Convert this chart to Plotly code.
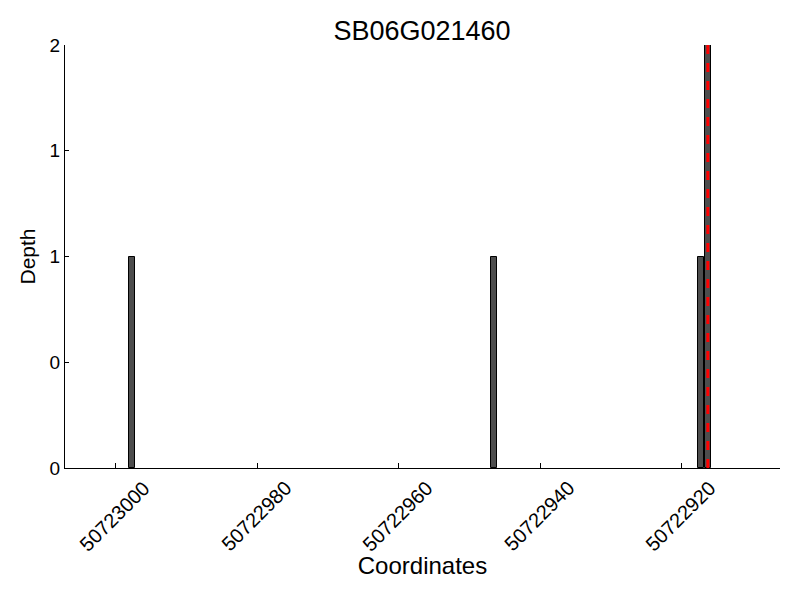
import plotly.graph_objects as go

title = "SB06G021460"
positions = [50722997.7, 50722946.5, 50722917.3, 50722916.3]
depths = [1, 1, 1, 2]
marker_pos = [50722916.3, 50722916.3]
marker_y = [0, 2]
x_ticks = [50723000, 50722980, 50722960, 50722940, 50722920]
y_ticks = [0, 0.5, 1, 1.5, 2]
y_labels = ["0", "0", "1", "1", "2"]

fig = go.Figure()
fig.add_trace(go.Bar(
    x=positions, y=depths, width=0.9,
    marker=dict(color="#4d4d4d", line=dict(color="black", width=1)),
    showlegend=False,
))
fig.add_trace(go.Scatter(
    x=marker_pos, y=marker_y, mode="lines",
    line=dict(color="red", width=3, dash="dash"),
    showlegend=False,
))

font = "Liberation Sans, Arial, sans-serif"
fig.update_layout(
    width=800, height=600,
    margin=dict(l=57, r=28, t=37, b=140, autoexpand=False),
    plot_bgcolor="white", paper_bgcolor="white",
    title=dict(text=title, x=0.5175, xanchor="center", y=0.963, yanchor="middle",
               font=dict(family=font, size=27, color="black")),
    bargap=0,
    font=dict(family=font, color="black"),
)
# centred, rotated tick labels (as in the reference)
for v in x_ticks:
    fig.add_annotation(
        x=v, xref="x", y=0, yref="paper", text=str(v), showarrow=False,
        textangle=-45, xanchor="center", yanchor="top", yshift=-6, xshift=-1,
        font=dict(family=font, size=20, color="black"),
    )
fig.update_xaxes(
    range=[50723007.2, 50722906.1], automargin=False,
    tickvals=x_ticks, ticktext=[str(v) for v in x_ticks],
    tickangle=-45, tickfont=dict(size=19, color="rgba(0,0,0,0)"),
    ticks="inside", ticklen=5, tickcolor="black",
    showline=True, linecolor="black", linewidth=1, mirror=False,
    showgrid=False, zeroline=False,
    title=dict(text="Coordinates", font=dict(size=24), standoff=4),
)
fig.update_yaxes(
    range=[0, 2], automargin=False,
    tickvals=y_ticks, ticktext=y_labels, tickfont=dict(size=19),
    ticks="inside", ticklen=4, tickcolor="black",
    showline=True, linecolor="black", linewidth=1,
    showgrid=False, zeroline=False,
    title=dict(text="Depth", font=dict(size=21), standoff=8),
)
fig.write_html("out.html")
